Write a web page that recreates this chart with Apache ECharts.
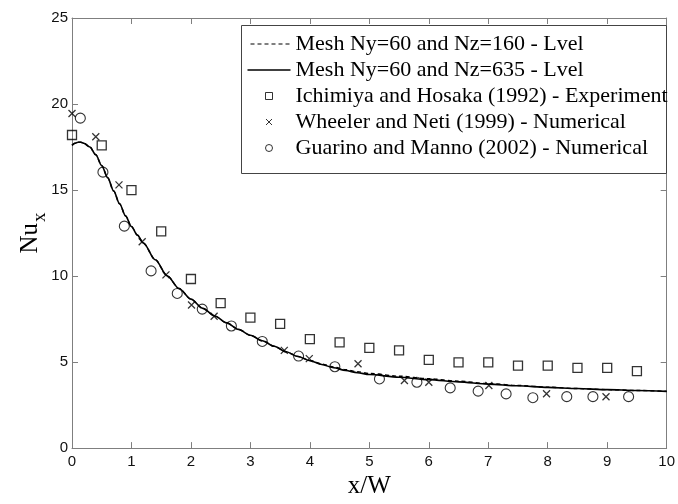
<!DOCTYPE html>
<html>
<head>
<meta charset="utf-8">
<script src="https://cdn.jsdelivr.net/npm/echarts@6/dist/echarts.min.js"></script>
<style>
html,body{margin:0;padding:0;background:#fff;}
#chart{width:678px;height:504px;}
</style>
</head>
<body>
<div id="chart"></div>
<script>
// ---- data ----
const lineX = [0, 0.05, 0.1, 0.15, 0.2, 0.3, 0.4, 0.5, 0.6, 0.7, 0.8, 0.9, 1.0, 1.1, 1.2, 1.4, 1.6, 1.8, 2.0, 2.2, 2.4, 2.6, 2.8, 3.0, 3.2, 3.4, 3.6, 3.8, 4.0, 4.2, 4.4, 4.6, 4.8, 5.0, 5.5, 6.0, 6.5, 7.0, 7.5, 8.0, 8.5, 9.0, 9.5, 10];
const mesh635 = [17.6, 17.72, 17.78, 17.78, 17.72, 17.5, 17.05, 16.42, 15.72, 14.95, 14.2, 13.5, 12.88, 12.38, 11.92, 10.95, 10.02, 9.28, 8.66, 8.12, 7.68, 7.28, 6.9, 6.56, 6.24, 5.92, 5.6, 5.32, 5.08, 4.86, 4.67, 4.51, 4.38, 4.28, 4.12, 3.98, 3.85, 3.72, 3.62, 3.53, 3.46, 3.4, 3.35, 3.3];
const mesh160 = [17.6, 17.72, 17.78, 17.78, 17.72, 17.5, 17.05, 16.42, 15.72, 14.95, 14.2, 13.5, 12.88, 12.38, 11.92, 10.95, 10.02, 9.28, 8.66, 8.12, 7.68, 7.28, 6.9, 6.56, 6.24, 5.92, 5.6, 5.33, 5.1, 4.89, 4.71, 4.56, 4.44, 4.34, 4.18, 4.03, 3.89, 3.75, 3.64, 3.54, 3.46, 3.4, 3.35, 3.3];

const ichimiyaX = [0, 0.5, 1.0, 1.5, 2.0, 2.5, 3.0, 3.5, 4.0, 4.5, 5.0, 5.5, 6.0, 6.5, 7.0, 7.5, 8.0, 8.5, 9.0, 9.5];
const ichimiyaY = [18.2, 17.6, 15.0, 12.6, 9.83, 8.43, 7.58, 7.22, 6.33, 6.15, 5.83, 5.68, 5.13, 4.98, 4.98, 4.79, 4.79, 4.66, 4.66, 4.47];

const wheelerX = [0.0, 0.4, 0.79, 1.18, 1.58, 2.01, 2.39, 3.57, 3.99, 4.81, 5.59, 6.0, 7.01, 7.98, 8.98];
const wheelerY = [19.45, 18.1, 15.3, 11.99, 10.07, 8.32, 7.66, 5.68, 5.2, 4.9, 3.93, 3.83, 3.64, 3.16, 2.98];

const guarinoX = [0.14, 0.52, 0.88, 1.33, 1.77, 2.19, 2.68, 3.2, 3.81, 4.42, 5.17, 5.8, 6.36, 6.83, 7.3, 7.75, 8.32, 8.76, 9.36];
const guarinoY = [19.18, 16.04, 12.9, 10.3, 8.99, 8.08, 7.1, 6.2, 5.35, 4.73, 4.02, 3.83, 3.5, 3.31, 3.15, 2.93, 2.99, 2.99, 2.99];

const xTicks = {min: 0, max: 10, interval: 1};
const yTicks = {min: 0, max: 25, interval: 5};

const names = [
  'Mesh Ny=60 and Nz=160 - Lvel',
  'Mesh Ny=60 and Nz=635 - Lvel',
  'Ichimiya and Hosaka (1992) - Experiment',
  'Wheeler and Neti (1999) - Numerical',
  'Guarino and Manno (2002) - Numerical'
];

function pairs(xs, ys) { return xs.map((x, i) => [x, ys[i]]); }

const axisGray = '#7f7f7f';
const tickFont = 'Liberation Sans, Arial, sans-serif';
const serif = 'Liberation Serif, Times New Roman, serif';

function baseX(pos, showLabel) {
  return {
    type: 'value', position: pos, min: xTicks.min, max: xTicks.max, interval: xTicks.interval,
    axisLine: {show: true, onZero: false, lineStyle: {color: axisGray, width: 1}},
    axisTick: {show: true, inside: true, length: 6, lineStyle: {color: axisGray}},
    axisLabel: {show: showLabel, fontSize: 15, color: '#111', margin: 6, fontFamily: tickFont},
    splitLine: {show: false}
  };
}
function baseY(pos, showLabel) {
  return {
    type: 'value', position: pos, min: yTicks.min, max: yTicks.max, interval: yTicks.interval,
    axisLine: {show: true, onZero: false, lineStyle: {color: axisGray, width: 1}},
    axisTick: {show: true, inside: true, length: 6, lineStyle: {color: axisGray}},
    axisLabel: {show: showLabel, fontSize: 15, color: '#111', margin: 4, fontFamily: tickFont},
    splitLine: {show: false}
  };
}

const xBottom = Object.assign(baseX('bottom', true), {
  name: 'x/W', nameLocation: 'middle', nameGap: 24,
  nameTextStyle: {fontFamily: serif, fontSize: 25, color: '#000'}
});
const yLeft = Object.assign(baseY('left', true), {
  name: '{a|Nu}{b|x}', nameLocation: 'middle', nameGap: 22, nameRotate: 90,
  nameMoveOverlap: false,
  nameTextStyle: {
    fontFamily: serif, color: '#000',
    rich: {
      a: {fontFamily: serif, fontSize: 25, color: '#000', verticalAlign: 'top'},
      b: {fontFamily: serif, fontSize: 19, color: '#000', verticalAlign: 'bottom', padding: [13, 0, 0, 1]}
    }
  }
});

const chart = echarts.init(document.getElementById('chart'), null, {renderer: 'canvas'});

const crossPath = 'path://M0,0L10,10M10,0L0,10';

chart.setOption({
  animation: false,
  backgroundColor: '#fff',
  grid: {left: 72, right: 6, top: 18, bottom: 46, containLabel: false},
  xAxis: [xBottom, baseX('top', false)],
  yAxis: [yLeft, baseY('right', false)],
  graphic: [{
    type: 'rect', z: 5,
    shape: {x: 241.5, y: 25.5, width: 425, height: 148},
    style: {fill: '#fff', stroke: '#444', lineWidth: 1}
  }],
  legend: {
    orient: 'vertical', left: 245, top: 33, padding: 0, z: 10,
    itemWidth: 43, itemHeight: 10, itemGap: 4,
    textStyle: {fontFamily: serif, fontSize: 22, color: '#000', lineHeight: 22},
    data: [
      {name: names[0], icon: 'path://M0,0M43,10M3,5L43,5', itemStyle: {color: 'none', borderColor: '#000', borderWidth: 1.1, borderType: [4, 3]}},
      {name: names[1], icon: 'path://M0,0M43,10M0,5L43,5', itemStyle: {color: 'none', borderColor: '#000', borderWidth: 1.3, borderType: 'solid'}},
      {name: names[2], icon: 'path://M0,0M43,10M18,1.5L25,1.5L25,8.5L18,8.5Z', itemStyle: {color: 'none', borderColor: '#000', borderWidth: 1}},
      {name: names[3], icon: 'path://M0,0M43,10M18.5,2L24.5,8M24.5,2L18.5,8', itemStyle: {color: 'none', borderColor: '#000', borderWidth: 1}},
      {name: names[4], icon: 'path://M0,0M43,10M25,5A3.5,3.5,0,1,1,18,5A3.5,3.5,0,1,1,25,5Z', itemStyle: {color: 'none', borderColor: '#000', borderWidth: 1}}
    ]
  },
  series: [
    {
      name: names[0], type: 'line', data: pairs(lineX, mesh160), showSymbol: false, symbol: 'none',
      smooth: 0.3, smoothMonotone: 'x',
      lineStyle: {color: '#000', width: 1.4, type: [4, 3]}, itemStyle: {color: '#000'}, z: 3
    },
    {
      name: names[1], type: 'line', data: pairs(lineX, mesh635), showSymbol: false, symbol: 'none',
      smooth: 0.3, smoothMonotone: 'x',
      lineStyle: {color: '#000', width: 1.6, type: 'solid'}, itemStyle: {color: '#000'}, z: 3
    },
    {
      name: names[2], type: 'scatter', data: pairs(ichimiyaX, ichimiyaY),
      symbol: 'rect', symbolSize: 9,
      itemStyle: {color: 'none', borderColor: '#000', borderWidth: 1.3}, z: 4
    },
    {
      name: names[3], type: 'scatter', data: pairs(wheelerX, wheelerY),
      symbol: crossPath, symbolSize: 7,
      itemStyle: {color: 'none', borderColor: '#000', borderWidth: 1.3}, z: 4
    },
    {
      name: names[4], type: 'scatter', data: pairs(guarinoX, guarinoY),
      symbol: 'circle', symbolSize: 10,
      itemStyle: {color: 'none', borderColor: '#000', borderWidth: 1.1}, z: 4
    }
  ]
});
</script>
</body>
</html>
